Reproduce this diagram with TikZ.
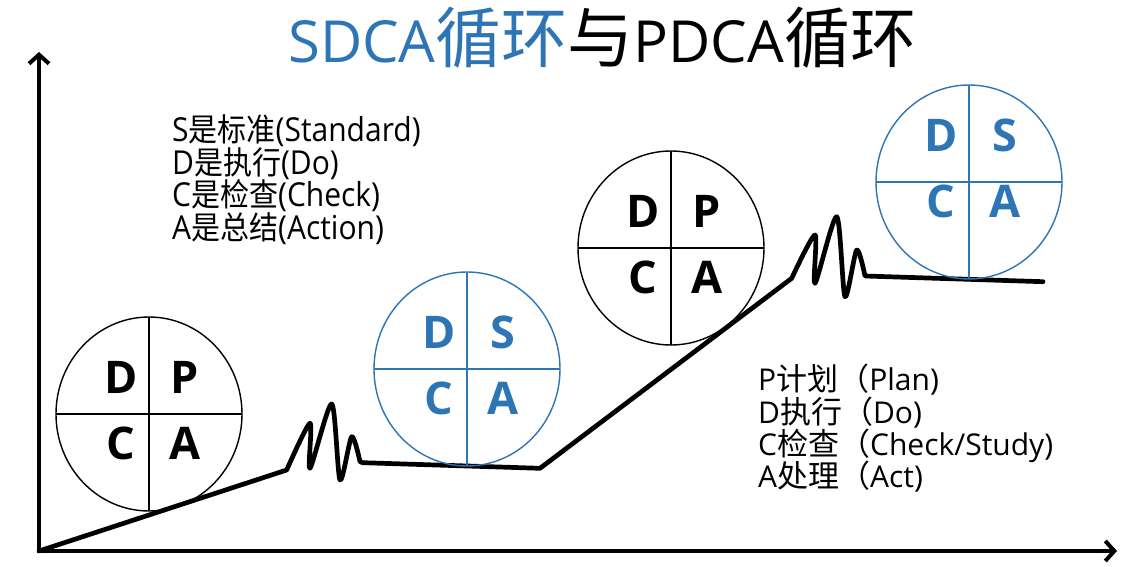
\documentclass[tikz,border=0pt]{standalone}
\usepackage{fontspec}
\newfontfamily\cjk{Noto Sans CJK SC}
\newfontfamily\lat{Open Sans}
\usetikzlibrary{arrows.meta}
\definecolor{sdblue}{RGB}{46,117,182}
\newcommand{\latT}[1]{{\lat\fontsize{58}{58}\selectfont#1}}
\newcommand{\latL}[1]{{\lat\fontsize{30}{30}\selectfont#1}}
\newcommand{\latR}[1]{{\lat\fontsize{30}{30}\selectfont#1}}
\newcommand{\lefttxt}[1]{\scalebox{1}[1.1]{\cjk\fontsize{29}{29}\selectfont#1}}
\newcommand{\righttxt}[1]{{\cjk\fontsize{31}{31}\selectfont#1}}
\newcommand{\cyc}[9]{% #1 name, #2 cx, #3 cy, #4 color, #5..#8 letters, #9 upper baseline offset
  \draw[ring,#4] (#2,#3) ellipse[x radius=93pt,y radius=97pt];
  \draw[ring,#4] (#2-93,#3) -- (#2+93,#3);
  \draw[ring,#4] (#2,#3-97) -- (#2,#3+97);
  \node[letter,text=#4] (#1-ul) at (#2-28,#3+#9) {#5};
  \node[letter,text=#4] (#1-ur) at (#2+36,#3+#9) {#6};
  \node[letter,text=#4] (#1-ll) at (#2-28,#3+#9+66) {#7};
  \node[letter,text=#4] (#1-lr) at (#2+36,#3+#9+66) {#8};
}
\begin{document}
\begin{tikzpicture}[x=1pt,y=-1pt,
  axis/.style={line width=4pt,line join=miter},
  curve/.style={line width=4.7pt,line join=round,line cap=round},
  ring/.style={line width=1.4pt},
  letter/.style={font=\lat\bfseries\fontsize{45}{45}\selectfont,anchor=base,inner sep=0pt},
  lbl/.style={anchor=base west,inner sep=0pt},
]
\useasboundingbox (0,0) rectangle (1144,567);
\fill[white] (0,0) rectangle (1144,567);
% axes
\coordinate (O) at (39,551);
\coordinate (Ytip) at (39,52);
\coordinate (Xtip) at (1117,551);
\draw[axis,{Straight Barb[length=9pt,width=20pt]}-{Straight Barb[length=9pt,width=20pt]}] (Ytip) -- (O) -- (Xtip);
% title
\node[lbl] (title) at (288,63) {\cjk\fontsize{66}{66}\selectfont\textcolor{sdblue}{\latT{SDCA}循环}与\latT{PDCA}循环};
% curve
\coordinate (f1s) at (363,462.7);
\coordinate (f1e) at (540,468.3);
\coordinate (r2e) at (791.7,278.3);
\coordinate (f2e) at (1043,281.7);
\draw[curve] (O) -- plot[smooth,tension=0.45] coordinates {(286.7,470) (310,423.3) (310,468.3) (331.7,404) (340,480) (351.7,436.7) (360,461.7)} -- (f1s) -- (f1e) -- (r2e) -- plot[smooth,tension=0.45] coordinates {(791.7,278.3) (815,235) (815,283.3) (836.7,216.7) (845,296.7) (856.7,250) (865,276)} -- (f2e);
% circles
\cyc{c1}{149}{414}{black}{D}{P}{C}{A}{-21}
\cyc{c2}{467}{369}{sdblue}{D}{S}{C}{A}{-21}
\cyc{c3}{671}{248}{black}{D}{P}{C}{A}{-21}
\cyc{c4}{969}{182}{sdblue}{D}{S}{C}{A}{-30}
% texts
\node[lbl] (l1) at (172,142) {\lefttxt{\latL{S}是标准\latL{(Standard)}}};
\node[lbl] (l2) at (172,175) {\lefttxt{\latL{D}是执行\latL{(Do)}}};
\node[lbl] (l3) at (172,207) {\lefttxt{\latL{C}是检查\latL{(Check)}}};
\node[lbl] (l4) at (172,240) {\lefttxt{\latL{A}是总结\latL{(Action)}}};
\node[lbl] (r1) at (758,390) {\righttxt{\latR{P}计划（\latR{Plan)}}};
\node[lbl] (r2) at (758,423) {\righttxt{\latR{D}执行（\latR{Do)}}};
\node[lbl] (r3) at (758,455) {\righttxt{\latR{C}检查（\latR{Check/Study)}}};
\node[lbl] (r4) at (758,487) {\righttxt{\latR{A}处理（\latR{Act)}}};
\end{tikzpicture}
\end{document}
